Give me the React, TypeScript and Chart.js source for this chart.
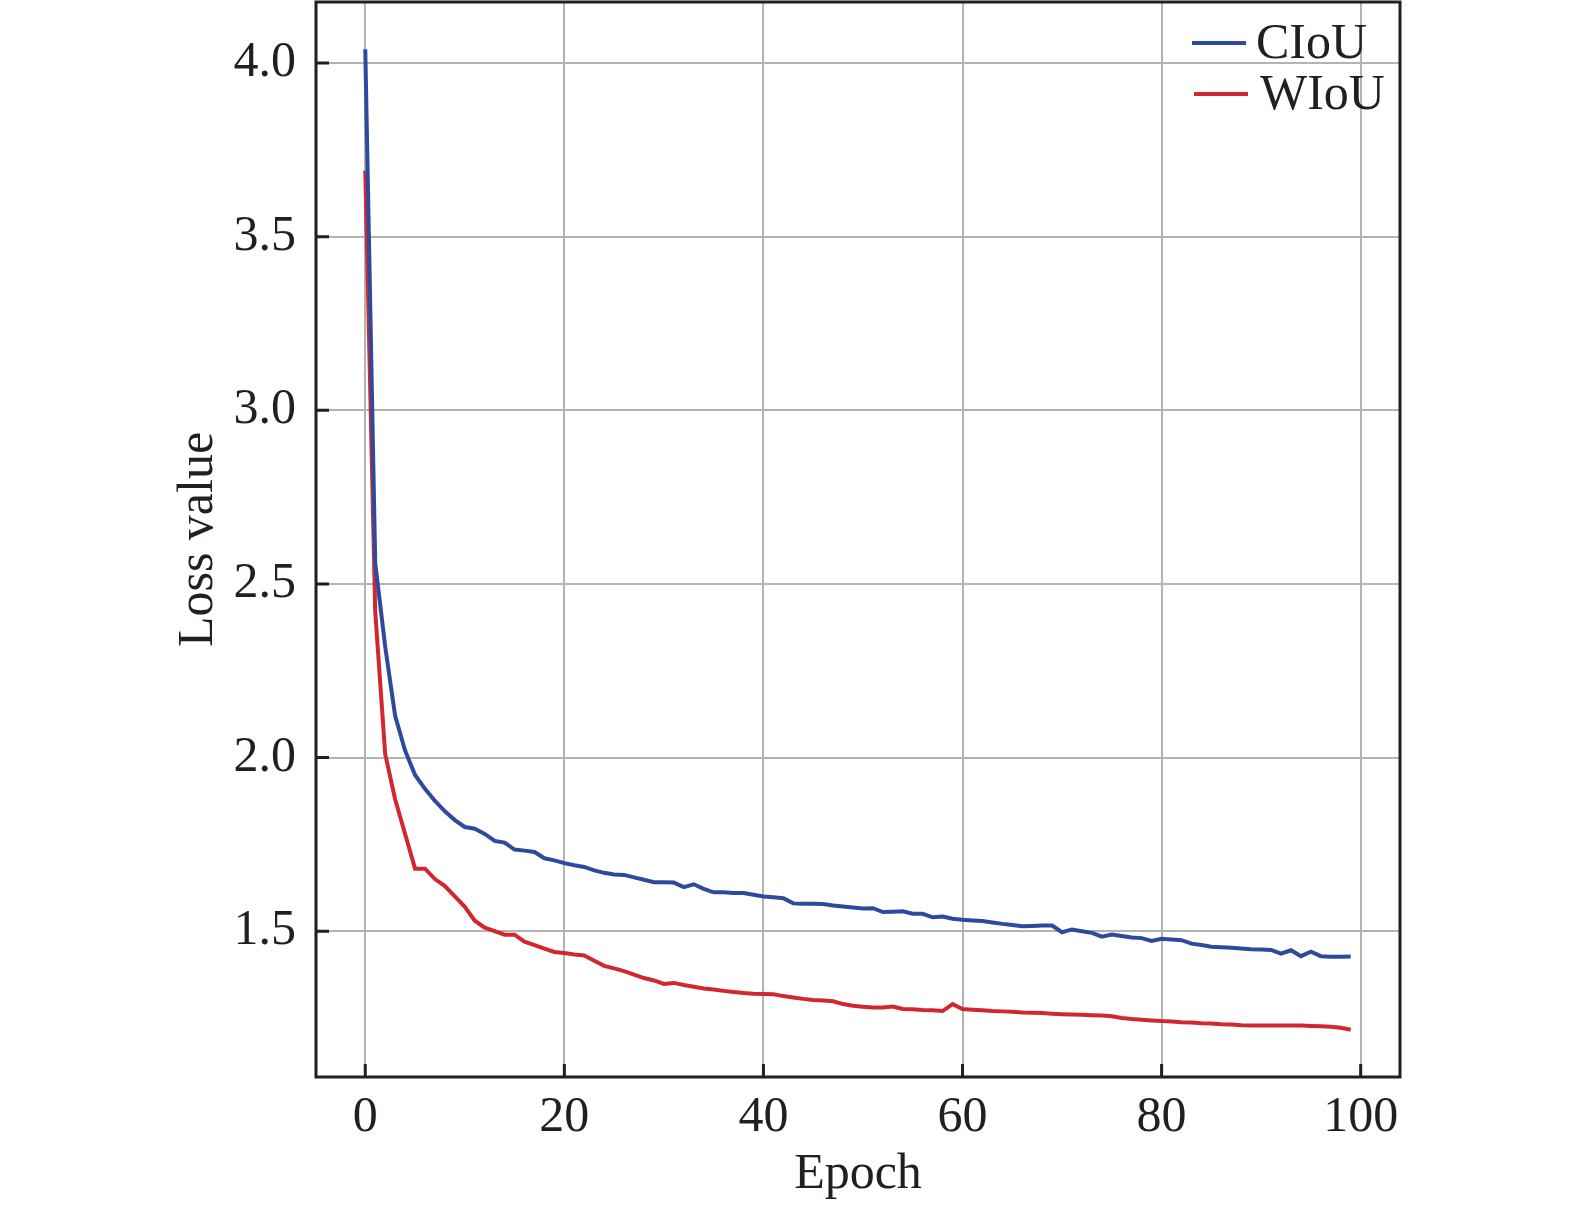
import React, { useEffect, useRef } from 'react';
import { Chart, registerables } from 'chart.js';

Chart.register(...registerables);

const epochs: number[] = Array.from({ length: 100 }, (_, i) => i);

const ciouLoss: number[] = [
  4.04, 2.56, 2.32, 2.12, 2.02, 1.95, 1.91, 1.875, 1.845, 1.82,
  1.8, 1.795, 1.78, 1.76, 1.755, 1.735, 1.732, 1.728, 1.71, 1.704,
  1.696, 1.69, 1.685, 1.675, 1.668, 1.663, 1.662, 1.655, 1.648, 1.641,
  1.641, 1.64, 1.627, 1.635, 1.622, 1.612, 1.612, 1.61, 1.61, 1.605,
  1.6, 1.598, 1.595, 1.58, 1.579, 1.579, 1.578, 1.574, 1.571, 1.568,
  1.565, 1.566, 1.555, 1.556, 1.557, 1.55, 1.55, 1.54, 1.542, 1.536,
  1.533, 1.531, 1.529, 1.525, 1.521, 1.518, 1.514, 1.515, 1.516, 1.516,
  1.497, 1.505, 1.5, 1.495, 1.484, 1.49, 1.486, 1.482, 1.48, 1.472,
  1.478, 1.476, 1.474, 1.464, 1.46, 1.455, 1.454, 1.452, 1.45, 1.448,
  1.447, 1.446, 1.435, 1.445, 1.428, 1.441, 1.428, 1.426, 1.426, 1.427,
];

const wiouLoss: number[] = [
  3.69, 2.42, 2.01, 1.88, 1.78, 1.68, 1.68, 1.65, 1.63, 1.6,
  1.57, 1.53, 1.51, 1.5, 1.49, 1.49, 1.47, 1.46, 1.45, 1.44,
  1.437, 1.433, 1.43, 1.415, 1.4, 1.393, 1.385, 1.375, 1.365, 1.358,
  1.348, 1.351, 1.345, 1.34, 1.335, 1.332, 1.328, 1.325, 1.322, 1.32,
  1.319, 1.318, 1.313, 1.309, 1.305, 1.302, 1.3, 1.298, 1.29, 1.285,
  1.282, 1.28, 1.28, 1.283, 1.276, 1.275, 1.273, 1.272, 1.27, 1.29,
  1.276, 1.274, 1.272, 1.27, 1.269, 1.268, 1.266, 1.265, 1.264, 1.262,
  1.261, 1.26, 1.259, 1.258, 1.257, 1.255, 1.25, 1.247, 1.245, 1.243,
  1.241, 1.24, 1.238, 1.237, 1.235, 1.234, 1.232, 1.231, 1.229, 1.228,
  1.228, 1.228, 1.228, 1.228, 1.228, 1.227, 1.226, 1.225, 1.222, 1.216,
];

const xTicks: number[] = [0, 20, 40, 60, 80, 100];
const yTicks: number[] = [1.5, 2.0, 2.5, 3.0, 3.5, 4.0];

const FONT = "'Liberation Serif', 'Times New Roman', serif";
const TEXT = '#231f20';

// box round the plot, inward tick marks and the legend in the top right corner
const framePlugin = {
  id: 'frame',
  afterDraw(chart: any) {
    const { ctx, chartArea } = chart;
    const { left, right, top, bottom } = chartArea;
    const xs = chart.scales.x;
    const ys = chart.scales.y;
    ctx.save();
    ctx.strokeStyle = TEXT;
    ctx.lineWidth = 3;
    ctx.strokeRect(left, top, right - left, bottom - top);
    ctx.beginPath();
    xTicks.forEach((t) => {
      const px = xs.getPixelForValue(t);
      ctx.moveTo(px, bottom);
      ctx.lineTo(px, bottom - 13);
    });
    yTicks.forEach((t) => {
      const py = ys.getPixelForValue(t);
      ctx.moveTo(left, py);
      ctx.lineTo(left + 13, py);
    });
    ctx.stroke();

    ctx.font = `50px ${FONT}`;
    ctx.textBaseline = 'alphabetic';
    ctx.textAlign = 'left';
    chart.data.datasets.forEach((ds: any, i: number) => {
      const y = top + 41 + i * 51;
      ctx.strokeStyle = ds.borderColor;
      ctx.lineWidth = 4;
      ctx.beginPath();
      ctx.moveTo(right - 208 + i * 2, y);
      ctx.lineTo(right - 154 + i * 2, y);
      ctx.stroke();
      ctx.fillStyle = TEXT;
      ctx.fillText(ds.label, right - 144 + i * 4, y + 15);
    });
    ctx.restore();
  },
};

const App: React.FC = () => {
  const chartRef = useRef<HTMLCanvasElement | null>(null);

  useEffect(() => {
    let chartInstance: Chart | null = null;
    if (chartRef.current) {
      const ctx = chartRef.current.getContext('2d');
      if (ctx) {
        chartInstance = new Chart(ctx, {
          type: 'line',
          data: {
            datasets: [
              {
                label: 'CIoU',
                data: ciouLoss.map((v, i) => ({ x: epochs[i], y: v })),
                borderColor: '#2f4a9c',
                borderWidth: 4,
                pointRadius: 0,
                tension: 0,
              },
              {
                label: 'WIoU',
                data: wiouLoss.map((v, i) => ({ x: epochs[i], y: v })),
                borderColor: '#d1282f',
                borderWidth: 4,
                pointRadius: 0,
                tension: 0,
              },
            ],
          },
          options: {
            responsive: false,
            animation: false,
            layout: { padding: { left: 0, right: 175, top: 2, bottom: 0 } },
            plugins: {
              legend: { display: false },
              tooltip: { enabled: false },
            },
            scales: {
              x: {
                type: 'linear',
                min: -4.95,
                max: 103.95,
                afterFit: (s: any) => {
                  s.height = 128;
                  s.paddingLeft = 0;
                  s.paddingRight = 0;
                },
                afterBuildTicks: (s: any) => {
                  s.ticks = xTicks.map((v) => ({ value: v }));
                },
                grid: { color: '#b3b3b3', lineWidth: 2, drawTicks: false },
                border: { display: false },
                ticks: {
                  padding: 11,
                  color: TEXT,
                  font: { family: FONT, size: 50 },
                  maxRotation: 0,
                },
                title: {
                  display: true,
                  text: 'Epoch',
                  color: TEXT,
                  font: { family: FONT, size: 50 },
                  padding: { top: 14, bottom: 0 },
                },
              },
              y: {
                type: 'linear',
                min: 1.08,
                max: 4.176,
                afterFit: (s: any) => {
                  s.width = 316;
                  s.paddingTop = 0;
                  s.paddingBottom = 0;
                },
                afterBuildTicks: (s: any) => {
                  s.ticks = yTicks.map((v) => ({ value: v }));
                },
                grid: { color: '#b3b3b3', lineWidth: 2, drawTicks: false },
                border: { display: false },
                ticks: {
                  padding: 20,
                  color: TEXT,
                  font: { family: FONT, size: 50 },
                  callback: (v: any) => Number(v).toFixed(1),
                },
                title: {
                  display: true,
                  text: 'Loss value',
                  color: TEXT,
                  font: { family: FONT, size: 50 },
                  padding: { top: 169, bottom: 0 },
                },
              },
            },
          },
          plugins: [framePlugin],
        });
      }
    }
    return () => {
      if (chartInstance) {
        chartInstance.destroy();
      }
    };
  }, []);

  return (
    <div style={{ position: 'absolute', left: 0, top: 0, width: 1575, height: 1205, background: '#fff' }}>
      <canvas ref={chartRef} width={1575} height={1205}></canvas>
    </div>
  );
};

export default App;
